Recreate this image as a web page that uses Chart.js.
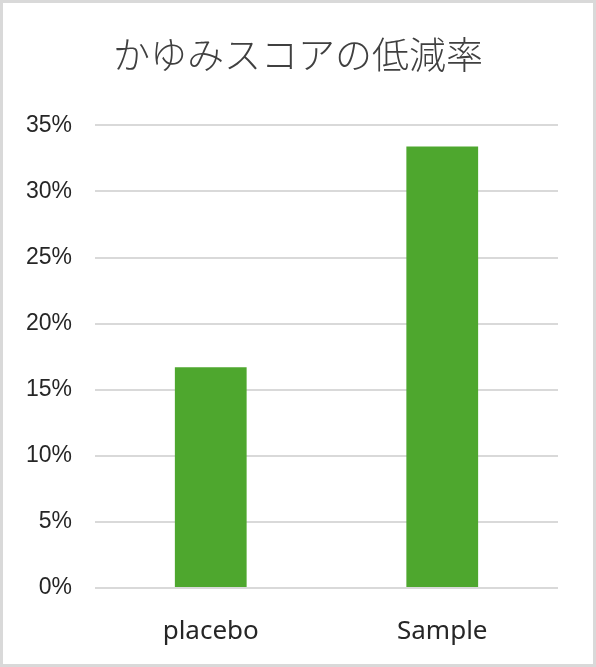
<!DOCTYPE html>
<html lang="ja">
<head>
<meta charset="utf-8">
<title>かゆみスコアの低減率</title>
<script src="https://cdn.jsdelivr.net/npm/chart.js@4.4.1/dist/chart.umd.min.js"></script>
<style>
  html, body { margin: 0; padding: 0; background: #fff; }
  #wrap {
    width: 596px; height: 667px; box-sizing: border-box;
    border: 3px solid #d9d9d9; background: #fff;
  }
</style>
</head>
<body>
<div id="wrap"><canvas id="chart" width="590" height="661"></canvas></div>
<script>
const categories = ['placebo', 'Sample'];
const reduction = [16.7, 33.4];
const tickValues = [0, 5, 10, 15, 20, 25, 30, 35];

const ctx = document.getElementById('chart').getContext('2d');

new Chart(ctx, {
    type: 'bar',
    data: {
        labels: categories,
        datasets: [{
            data: reduction,
            backgroundColor: '#4ea72e',
            barPercentage: 0.31,
            categoryPercentage: 1
        }]
    },
    options: {
        responsive: false,
        animation: false,
        scales: {
            x: {
                grid: { display: false },
                border: { display: false },
                ticks: {
                    padding: 20,
                    color: '#262626',
                    font: { family: 'Noto Sans', size: 26 }
                },
                afterFit: scale => { scale.height = 76; }
            },
            y: {
                min: 0,
                max: 35,
                afterBuildTicks: scale => {
                    scale.ticks = tickValues.map(v => ({ value: v }));
                },
                grid: {
                    color: '#d9d9d9',
                    lineWidth: 2,
                    drawTicks: false
                },
                border: { display: false },
                ticks: {
                    padding: 23,
                    color: '#262626',
                    font: { family: 'Liberation Sans', size: 23 },
                    callback: v => v + '%'
                },
                afterFit: scale => { scale.width = 92; }
            },
            // empty right margin so the title stays centred on the whole box
            pad: {
                position: 'right',
                grid: { display: false },
                border: { display: false },
                ticks: { display: false },
                afterFit: scale => { scale.width = 35; }
            }
        },
        plugins: {
            legend: { display: false },
            tooltip: { enabled: false },
            title: {
                display: true,
                text: 'かゆみスコアの低減率',
                color: '#404040',
                font: { family: 'Noto Sans CJK JP', size: 37, weight: 300, lineHeight: 1.2 },
                padding: { top: 30, bottom: 48 }
            }
        }
    }
});
</script>
</body>
</html>
